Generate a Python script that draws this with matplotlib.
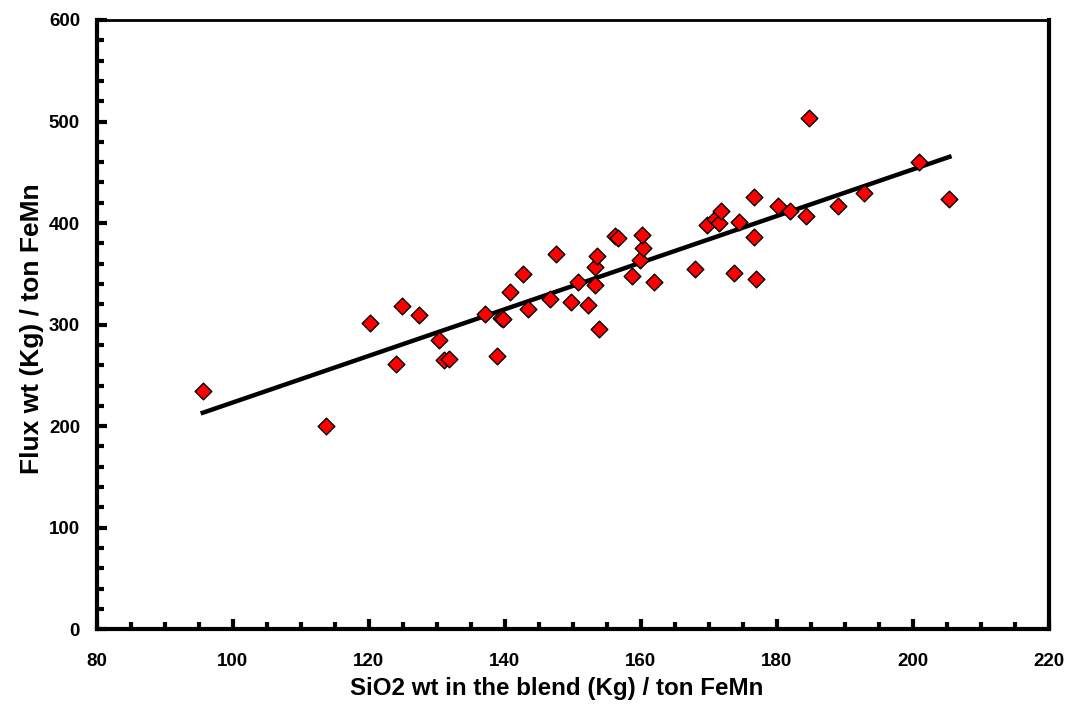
import numpy as np
import matplotlib
matplotlib.use('Agg')
import matplotlib.pyplot as plt
from matplotlib.ticker import MultipleLocator

plt.rcParams['font.family'] = ['Liberation Sans', 'DejaVu Sans']
plt.rcParams['font.weight'] = 'bold'

# SiO2 in blend (kg / ton FeMn)
sio2 = [95.6, 113.7, 120.2, 124.0, 124.9, 127.4, 130.4, 131.0, 131.8, 137.1,
        138.9, 139.4, 139.8, 140.8, 142.7, 143.4, 146.7, 147.5, 149.7, 150.8,
        152.2, 153.3, 153.3, 153.6, 153.9, 156.2, 156.6, 158.7, 159.9, 160.4,
        160.2, 162.0, 168.0, 169.7, 170.9, 171.5, 171.8, 174.4, 173.7, 176.7,
        176.7, 177.0, 180.2, 181.9, 184.3, 184.7, 189.0, 192.8, 200.9, 205.4]
# Flux (kg / ton FeMn)
flux = [235, 200, 302, 261, 318, 309, 285, 265, 266, 310,
        269, 307, 306, 332, 350, 315, 325, 370, 322, 342,
        319, 339, 357, 368, 296, 387, 385, 348, 364, 375,
        388, 342, 355, 398, 404, 400, 412, 401, 351, 426,
        386, 345, 417, 412, 407, 503, 417, 430, 460, 424]

fig = plt.figure(figsize=(10.66, 7.13), dpi=100)
ax = fig.add_axes([0.0907, 0.1174, 0.8931, 0.8546])

x = np.array(sio2)
y = np.array(flux)
k, b = np.polyfit(x, y, 1)
xl = np.array([x.min(), x.max()])
ax.plot(xl, k * xl + b, color='black', lw=3.2, zorder=2)

ax.scatter(x, y, marker='D', s=72, facecolor='#ff0000', edgecolor='black',
           linewidths=1.0, zorder=3)

ax.set_xlim(80, 220)
ax.set_ylim(0, 600)
ax.xaxis.set_major_locator(MultipleLocator(20))
ax.xaxis.set_minor_locator(MultipleLocator(5))
ax.yaxis.set_major_locator(MultipleLocator(100))
ax.yaxis.set_minor_locator(MultipleLocator(20))
ax.tick_params(which='major', direction='in', length=7, width=3, labelsize=13.5)
ax.tick_params(which='minor', direction='in', length=5, width=3)
ax.tick_params(axis='x', which='major', pad=17)
ax.tick_params(axis='y', which='major', pad=12)

for s in ['left', 'bottom', 'right']:
    ax.spines[s].set_linewidth(3)
ax.spines['top'].set_linewidth(2)

ax.set_xlabel('SiO2 wt in the blend (Kg) / ton FeMn', fontsize=17.4, fontweight='bold')
ax.set_ylabel('Flux wt (Kg) / ton FeMn', fontsize=19, fontweight='bold')
ax.xaxis.set_label_coords(0.4835, -0.078)
ax.yaxis.set_label_coords(-0.055, 0.494)

fig.savefig('out.png', dpi=100)
